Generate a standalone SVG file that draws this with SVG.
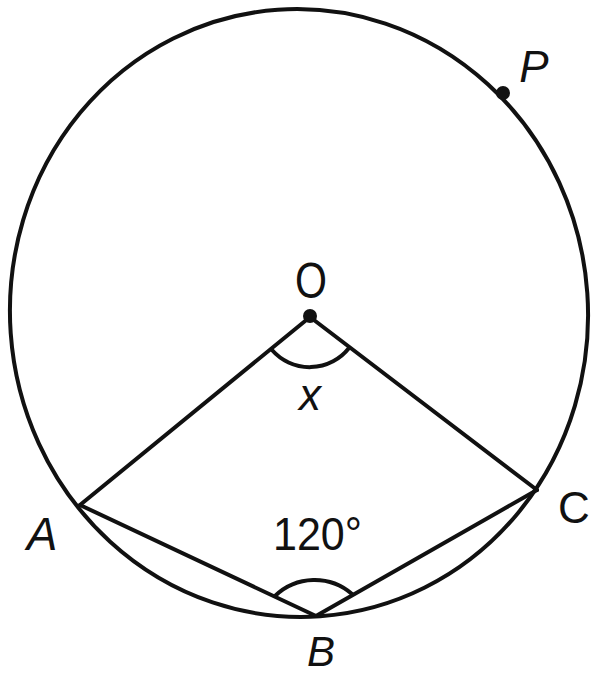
<svg xmlns="http://www.w3.org/2000/svg" width="592" height="675" viewBox="0 0 592 675">
<style>
.ln{fill:none;stroke:#111;stroke-width:4;stroke-linecap:round}
.lb{font-family:"Liberation Sans",Arial,sans-serif;fill:#111}
.it{font-style:italic}
</style>
<rect width="592" height="675" fill="#fff"/>
<g id="circle"><ellipse class="ln" cx="299" cy="313" rx="289" ry="304" transform="rotate(-4 299 313)"/></g>
<g id="connectors">
<line class="ln" x1="310" y1="317" x2="80" y2="505"/>
<line class="ln" x1="310" y1="317" x2="537" y2="490"/>
<line class="ln" x1="80" y1="505" x2="316" y2="616"/>
<line class="ln" x1="537" y1="490" x2="316" y2="616"/>
<path class="ln" d="M272,350 A50,50 0 0 0 349,348"/>
<path class="ln" d="M275,596 A57,57 0 0 1 352,594"/>
</g>
<g id="O"><circle cx="310" cy="316" r="7" fill="#111"/><text class="lb" x="311" y="298" font-size="50" text-anchor="middle" textLength="32" lengthAdjust="spacingAndGlyphs">O</text></g>
<g id="P"><circle cx="503" cy="93" r="7" fill="#111"/><text class="lb it" x="534" y="82" font-size="44" text-anchor="middle">P</text></g>
<g id="A"><text class="lb it" x="42" y="550" font-size="46" text-anchor="middle">A</text></g>
<g id="B"><text class="lb it" x="321" y="666" font-size="42" text-anchor="middle">B</text></g>
<g id="C"><text class="lb" x="574" y="523" font-size="44" text-anchor="middle">C</text></g>
<g id="x"><text class="lb it" x="310" y="410" font-size="44" text-anchor="middle">x</text></g>
<g id="angle"><text class="lb" x="317.5" y="550" font-size="46" text-anchor="middle" textLength="89" lengthAdjust="spacingAndGlyphs">120°</text></g>
</svg>
